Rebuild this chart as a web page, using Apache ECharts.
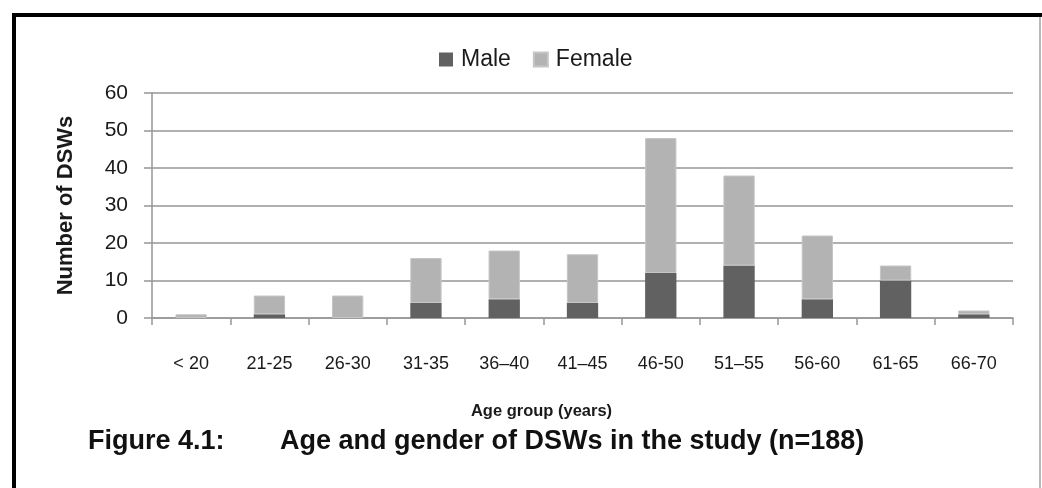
<!DOCTYPE html>
<html>
<head>
<meta charset="utf-8">
<script src="https://cdn.jsdelivr.net/npm/echarts@6/dist/echarts.min.js"></script>
<style>
  html, body { margin: 0; padding: 0; background: #fff; }
  #chart { width: 1042px; height: 488px; }
</style>
</head>
<body>
<div id="chart"></div>
<script>
// Age groups of the DSWs
var categories = ['< 20', '21-25', '26-30', '31-35', '36\u201340', '41\u201345', '46-50', '51\u201355', '56-60', '61-65', '66-70'];
// Number of DSWs per age group, by gender
var male = [0, 1, 0, 4, 5, 4, 12, 14, 5, 10, 1];
var female = [1, 5, 6, 12, 13, 13, 36, 24, 17, 4, 1];
// Value axis ticks
var yMin = 0, yMax = 60, yStep = 10;

var FONT = '"Liberation Sans", Arial, sans-serif';
var chart = echarts.init(document.getElementById('chart'), null, { renderer: 'canvas' });

chart.setOption({
  backgroundColor: '#ffffff',
  animation: false,
  legend: {
    left: 434,
    top: 43,
    itemWidth: 14,
    itemHeight: 14,
    itemGap: 22,
    icon: 'rect',
    textStyle: { fontFamily: FONT, fontSize: 23, color: '#1a1a1a', padding: [0, 0, 0, 3] },
    data: ['Male', 'Female']
  },
  grid: { left: 152, right: 29, top: 93, bottom: 170, containLabel: false },
  xAxis: {
    type: 'category',
    data: categories,
    name: 'Age group (years)',
    nameLocation: 'middle',
    nameGap: 85,
    nameTextStyle: { fontFamily: FONT, fontSize: 16.5, fontWeight: 'bold', color: '#1a1a1a', padding: [0, 82, 0, 0] },
    axisLine: { lineStyle: { color: '#969696', width: 1.5 } },
    axisTick: { show: true, length: 7, lineStyle: { color: '#969696', width: 1.5 } },
    axisLabel: { fontFamily: FONT, fontSize: 18, color: '#1a1a1a', margin: 37 }
  },
  yAxis: {
    type: 'value',
    min: yMin,
    max: yMax,
    interval: yStep,
    name: 'Number of DSWs',
    nameLocation: 'middle',
    nameGap: 75,
    nameTextStyle: { fontFamily: FONT, fontSize: 22, fontWeight: 'bold', color: '#1a1a1a' },
    axisLine: { show: true, lineStyle: { color: '#969696', width: 1.5 } },
    axisTick: { show: true, length: 8, lineStyle: { color: '#969696', width: 1.5 } },
    axisLabel: { fontFamily: FONT, fontSize: 21, color: '#1a1a1a', margin: 24 },
    splitLine: { show: true, lineStyle: { color: '#969696', width: 1.5 } }
  },
  series: [
    {
      name: 'Male',
      type: 'bar',
      stack: 'total',
      barWidth: '40%',
      data: male,
      itemStyle: { color: '#616161' }
    },
    {
      name: 'Female',
      type: 'bar',
      stack: 'total',
      barWidth: '40%',
      data: female,
      itemStyle: { color: '#b3b3b3', borderColor: '#c6c6c6', borderWidth: 1 }
    }
  ],
  graphic: [
    // frame: heavy black top and left edges, thin grey right edge
    { type: 'rect', shape: { x: 12, y: 13, width: 1030, height: 4 }, style: { fill: '#000' }, silent: true },
    { type: 'rect', shape: { x: 12, y: 13, width: 4, height: 475 }, style: { fill: '#000' }, silent: true },
    { type: 'rect', shape: { x: 1039, y: 17, width: 2, height: 471 }, style: { fill: '#b8b8b8' }, silent: true },
    // figure caption
    {
      type: 'text', left: 88, top: 428,
      style: { text: 'Figure 4.1:', font: 'bold 27px ' + FONT, fill: '#111' }
    },
    {
      type: 'text', left: 280, top: 428,
      style: { text: 'Age and gender of DSWs in the study (n=188)', font: 'bold 27px ' + FONT, fill: '#111' }
    }
  ]
});
</script>
</body>
</html>
